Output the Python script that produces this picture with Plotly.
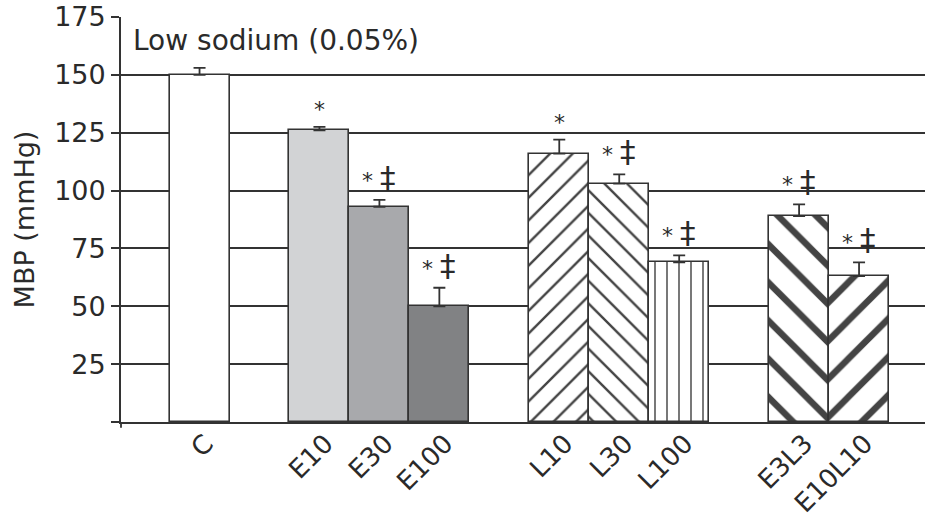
import plotly.graph_objects as go

# Treatment groups, in drawing order
groups = [["C"], ["E10", "E30", "E100"], ["L10", "L30", "L100"], ["E3L3", "E10L10"]]
categories = [c for g in groups for c in g]

# Mean blood pressure (mmHg) and SEM
mbp = [150, 126, 93, 50, 116, 103, 69, 89, 63]
sem = [3, 1.5, 3, 8, 6, 4, 3, 5, 6]

# Significance marks above each bar: * vs control, ‡ vs lowest dose
vs_control = [False, True, True, True, True, True, True, True, True]
vs_dose = [False, False, True, True, False, True, True, True, True]

# Slot positions: one empty slot between groups
slots = []
pos = 0
for g in groups:
    for _ in g:
        slots.append(pos)
        pos += 1
    pos += 1

INK = "#333333"
fills = ["#ffffff", "#d2d3d5", "#a8a9ac", "#818284", "#ffffff", "#ffffff", "#ffffff", "#ffffff", "#ffffff"]
shapes = ["", "", "", "", "/", "\\", "|", "\\", "/"]
psize = [8, 8, 8, 8, 16, 16, 12, 27, 27]
psolid = [0.2, 0.2, 0.2, 0.2, 0.15, 0.15, 0.12, 0.24, 0.24]

fig = go.Figure()
fig.add_trace(go.Bar(
    x=slots,
    y=mbp,
    width=1,
    marker=dict(
        color=fills,
        line=dict(color=INK, width=1.6),
        pattern=dict(shape=shapes, size=psize, solidity=psolid,
                     fgcolor="#1a1a1a", fgopacity=1, bgcolor=fills,
                     fillmode="overlay"),
    ),
    error_y=dict(type="data", symmetric=False, array=sem,
                 arrayminus=[0] * len(sem), color=INK, thickness=1.8, width=6),
    showlegend=False,
))

for x, v, e, a, b in zip(slots, mbp, sem, vs_control, vs_dose):
    parts = []
    if a:
        parts.append("*")
    if b:
        parts.append("<span style='font-size:31px'>‡</span>")
    if parts:
        fig.add_annotation(x=x, y=v + e, text="&nbsp;".join(parts), showarrow=False,
                           yanchor="bottom", yshift=3,
                           font=dict(family="DejaVu Sans", size=22, color="#2a2a2a"))

fig.add_annotation(xref="paper", yref="paper", x=0.012, y=0.988,
                   xanchor="left", yanchor="top", showarrow=False,
                   text="Low sodium (0.05%)",
                   font=dict(family="DejaVu Sans", size=28, color="#2a2a2a"))

# small downward tick at the axis corner
fig.add_shape(type="line", xref="paper", yref="paper", x0=0, x1=0, y0=0, y1=-0.014,
              line=dict(color=INK, width=1.8))

fig.update_layout(
    width=925, height=518,
    margin=dict(l=121, r=0, t=17, b=96),
    paper_bgcolor="white", plot_bgcolor="white",
    font=dict(family="DejaVu Sans", size=26, color="#2a2a2a"),
    bargap=0,
)
fig.update_xaxes(
    range=[-1.31, 12.1], automargin=False,
    tickvals=slots, ticktext=categories, tickangle=-45,
    ticklabelstandoff=-6, ticklabelshift=6,
    ticks="", showgrid=False, zeroline=False,
    showline=True, linecolor=INK, linewidth=1.8, mirror=False,
)
fig.update_yaxes(
    range=[0, 175], automargin=False,
    tickvals=[0, 25, 50, 75, 100, 125, 150, 175],
    ticktext=["", "25", "50", "75", "100", "125", "150", "175"],
    ticks="outside", ticklen=8, tickwidth=1.8, tickcolor=INK,
    tickfont=dict(size=27),
    showgrid=True, gridcolor=INK, gridwidth=1.6,
    zeroline=False, showline=True, linecolor=INK, linewidth=1.8,
    title=dict(text="MBP (mmHg)", standoff=12,
               font=dict(family="DejaVu Sans", size=27, color="#2a2a2a")),
)

fig.write_html("out.html")
